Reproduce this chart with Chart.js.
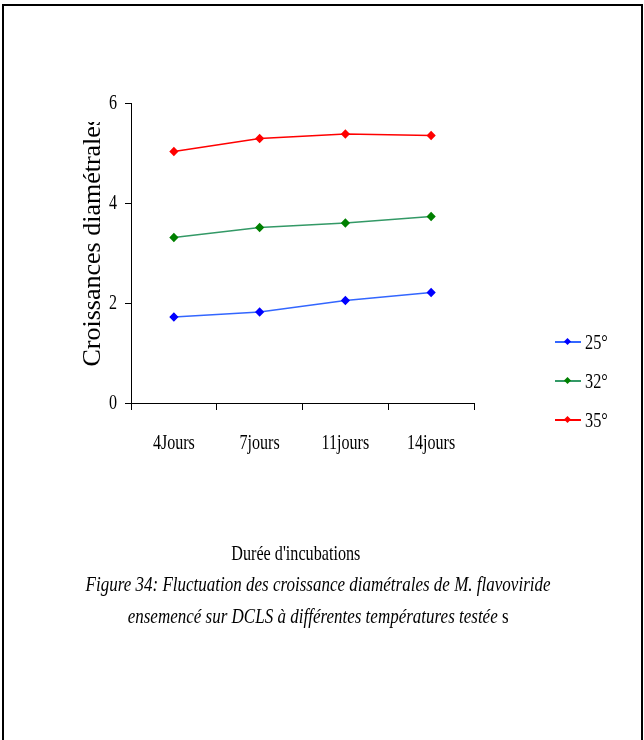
<!DOCTYPE html>
<html lang="fr">
<head>
    <meta charset="UTF-8">
    <title>Croissances diamétrales - M. flavoviride</title>
    <script src="https://cdn.jsdelivr.net/npm/chart.js"></script>
    <style>
        body {
            margin: 0;
            background: #fff;
            font-family: 'Liberation Serif', 'Times New Roman', serif;
            color: #000;
        }
        .page {
            position: relative;
            width: 644px;
            height: 740px;
            overflow: hidden;
        }
        .frame {
            position: absolute;
            left: 2px;
            top: 4px;
            width: 637px;
            height: 800px;
            border: 2px solid #000;
        }
        .chart-box {
            position: absolute;
            left: 0;
            top: 0;
            width: 644px;
            height: 740px;
        }
        /* rotated y axis title, clipped at the top like the original */
        .y-title-clip {
            position: absolute;
            left: 77px;
            top: 122px;
            width: 30px;
            height: 245px;
            overflow: hidden;
        }
        .y-title {
            position: absolute;
            left: 0;
            bottom: 0;
            writing-mode: vertical-rl;
            transform: rotate(180deg);
            font-size: 26px;
            line-height: 30px;
            white-space: nowrap;
        }
        .legend {
            position: absolute;
            left: 555px;
            top: 0;
        }
        .key {
            position: absolute;
            left: 0;
            height: 24px;
            white-space: nowrap;
        }
        .swatch {
            position: absolute;
            left: 0;
            top: 11px;
            width: 26px;
            height: 2px;
        }
        .swatch b {
            position: absolute;
            left: 10px;
            top: -2px;
            width: 5px;
            height: 5px;
            transform: rotate(45deg);
        }
        .key span {
            position: absolute;
            left: 30px;
            top: 0;
            font-size: 22px;
            line-height: 24px;
            transform: scaleX(0.74);
            transform-origin: left center;
        }
        .line {
            position: absolute;
            left: 0;
            width: 644px;
            text-align: center;
            white-space: nowrap;
        }
        .line span {
            display: inline-block;
        }
        .x-title { top: 541px; font-size: 21px; left: -26px; }
        .x-title span { transform: scaleX(0.77); }
        .caption { font-size: 21px; font-style: italic; left: -4px; }
        .caption > span { transform: scaleX(0.81); }
        .caption .up { font-style: normal; }
    </style>
</head>
<body>
<div class="page">
    <div class="frame"></div>
    <div class="chart-box">
        <canvas id="growthChart"></canvas>
    </div>
    <div class="y-title-clip"><div class="y-title">Croissances diamétrales</div></div>
    <div class="legend" id="legend"></div>
    <div class="line x-title"><span>Durée d'incubations</span></div>
    <div class="line caption" style="top:572px"><span>Figure 34: Fluctuation des croissance diamétrales de M. flavoviride</span></div>
    <div class="line caption" style="top:604px"><span>ensemencé sur DCLS à différentes températures testée <span class="up">s</span></span></div>
</div>

<script>
    // incubation days and diametral growth per temperature
    const days = ['4Jours', '7jours', '11jours', '14jours'];
    const temps = ['25°', '32°', '35°'];
    const growth25 = [1.72, 1.82, 2.05, 2.21];
    const growth32 = [3.31, 3.51, 3.60, 3.73];
    const growth35 = [5.03, 5.29, 5.38, 5.35];
    const yMin = 0, yMax = 6, yStep = 2;

    const lineColors = ['#3366ff', '#339966', '#ff0000'];
    const pointColors = ['#0000ff', '#008000', '#ff0000'];
    const series = [growth25, growth32, growth35];

    const TEXT_SQUEEZE = 0.73;
    const serif = "'Liberation Serif', 'Times New Roman', serif";

    // narrow the canvas text a bit (condensed Times look)
    const narrowText = {
        id: 'narrowText',
        beforeInit(chart) {
            const ctx = chart.ctx;
            const fill = ctx.fillText.bind(ctx);
            ctx.fillText = (text, x, y, maxWidth) => {
                const w = ctx.measureText(text).width * TEXT_SQUEEZE;
                fill(text, x, y, maxWidth === undefined ? w : Math.min(w, maxWidth));
            };
        }
    };

    const ctx = document.getElementById('growthChart').getContext('2d');
    const growthChart = new Chart(ctx, {
        type: 'line',
        data: {
            labels: days,
            datasets: series.map((values, i) => ({
                label: temps[i],
                data: values,
                borderColor: lineColors[i],
                backgroundColor: pointColors[i],
                pointBackgroundColor: pointColors[i],
                pointBorderColor: pointColors[i],
                pointStyle: 'rectRot',
                pointRadius: 3.5,
                borderWidth: 1.6,
                tension: 0,
                fill: false
            }))
        },
        options: {
            responsive: true,
            maintainAspectRatio: false,
            animation: false,
            layout: {
                padding: { left: 0, top: 103, right: 170, bottom: 277 }
            },
            plugins: {
                legend: { display: false },
                tooltip: { enabled: false }
            },
            scales: {
                x: {
                    offset: true,
                    afterFit(scale) { scale.height = 60; },
                    grid: {
                        offset: true,
                        drawOnChartArea: false,
                        drawTicks: true,
                        tickLength: 7,
                        color: '#000'
                    },
                    border: { display: true, color: '#000', width: 1 },
                    ticks: {
                        color: '#000',
                        padding: 20,
                        maxRotation: 0,
                        font: { family: serif, size: 22 }
                    }
                },
                y: {
                    min: yMin,
                    max: yMax,
                    afterFit(scale) { scale.width = 131; },
                    grid: {
                        drawOnChartArea: false,
                        drawTicks: true,
                        tickLength: 6,
                        color: '#000'
                    },
                    border: { display: true, color: '#000', width: 1 },
                    ticks: {
                        stepSize: yStep,
                        color: '#000',
                        padding: 8,
                        font: { family: serif, size: 22 }
                    }
                }
            }
        },
        plugins: [narrowText]
    });

    // legend on the right, one row per temperature
    const legend = document.getElementById('legend');
    temps.forEach((name, i) => {
        const key = document.createElement('div');
        key.className = 'key';
        key.style.top = (330 + i * 39) + 'px';
        key.innerHTML = `<i class="swatch" style="background:${lineColors[i]}"><b style="background:${pointColors[i]}"></b></i><span>${name}</span>`;
        legend.appendChild(key);
    });
</script>
</body>
</html>
